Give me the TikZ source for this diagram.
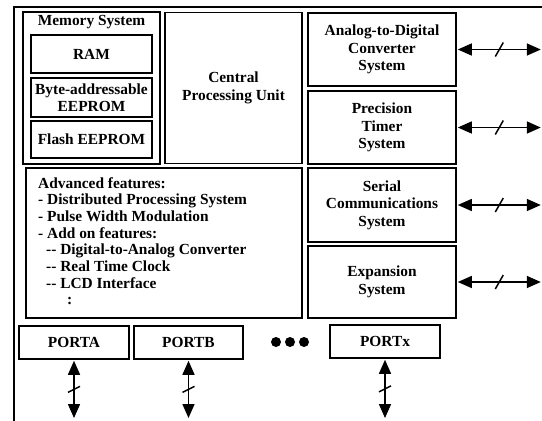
\documentclass[tikz,border=0pt]{standalone}
\usepackage{fontspec}
\setmainfont{Liberation Serif}
\usetikzlibrary{arrows.meta,calc}
\begin{document}
\begin{tikzpicture}[x=1pt,y=-1pt,
  lbl/.style={font=\fontsize{15.4}{17.5}\selectfont\bfseries},
  box/.style={draw,line width=1.6pt,inner sep=0pt,align=center,lbl},
  biarrow/.style={line width=1.5pt,{Triangle[length=14pt,width=12pt]}-{Triangle[length=14pt,width=12pt]}},
  tickmark/.style={line width=1.5pt},
  dot/.style={circle,fill,inner sep=0pt,minimum size=10pt}]
\useasboundingbox (0,0) rectangle (542,421);
% outer frame
\draw[line width=1.6pt] (542,7) -- (14,7) -- (14,421);
% memory system
\node[box,minimum width=137pt,minimum height=151.5pt] (mem) at (91.5,88) {};
\node[lbl,inner sep=0pt] (memt) at (91.5,22) {Memory System};
\node[box,minimum width=121pt,minimum height=38pt] (ram) at (91.5,54) {RAM};
\node[box,minimum width=121pt,minimum height=39pt] (byte) at (91.5,97.5) {Byte-addressable\\EEPROM};
\node[box,minimum width=121pt,minimum height=37pt] (flash) at (91.5,139.5) {Flash EEPROM};
% CPU
\node[box,minimum width=137pt,minimum height=151pt] (cpu) at (233.5,88) {Central\\Processing Unit};
% right column
\node[box,minimum width=148pt,minimum height=73pt] (adc) at (382,49.5) {Analog-to-Digital\\Converter\\System};
\node[box,minimum width=148pt,minimum height=73pt] (tim) at (382,127.5) {Precision\\Timer\\System};
\node[box,minimum width=148pt,minimum height=74pt] (ser) at (382,205) {Serial\\Communications\\System};
\node[box,minimum width=148pt,minimum height=72pt] (exp) at (382,282) {Expansion\\System};
% advanced features
\node[box,minimum width=276pt,minimum height=150pt] (adv) at (164,243) {};
\node[anchor=north west,inner sep=0pt,align=left,
  font=\fontsize{15.4}{16.7}\selectfont\bfseries] (advt) at (38,177)
  {Advanced features:\\
   - Distributed Processing System\\
   - Pulse Width Modulation\\
   - Add on features:\\
   \hspace*{8pt}-{}- Digital-to-Analog Converter\\
   \hspace*{8pt}-{}- Real Time Clock\\
   \hspace*{8pt}-{}- LCD Interface\\
   \hspace*{29pt}:};
% ports
\node[box,minimum width=110pt,minimum height=33pt] (pa) at (74,342.5) {PORTA};
\node[box,minimum width=109pt,minimum height=33pt] (pb) at (188.5,342.5) {PORTB};
\node[box,minimum width=110pt,minimum height=33pt] (px) at (385,341.5) {PORTx};
\node[dot] (d1) at (276,342) {};
\node[dot] (d2) at (290,342) {};
\node[dot] (d3) at (304,342) {};
% right arrows
\foreach \n in {adc,tim,ser,exp}{
  \coordinate (\n R) at ($(\n.east)+(84,0)$);
  \draw[biarrow] ([xshift=1pt]\n.east) -- (\n R) coordinate[pos=0.5] (\n M);
  \draw[tickmark] ($(\n M)+(-4,7)$) -- ($(\n M)+(4,-7)$);
}
% bottom arrows
\foreach \n in {pa,pb,px}{
  \coordinate (\n B) at (\n.south |- 0,418);
  \draw[biarrow] ([yshift=-1pt]\n.south) -- (\n B) coordinate[pos=0.5] (\n M);
  \draw[tickmark] ($(\n M)+(-6,3)$) -- ($(\n M)+(6,-3)$);
}
\end{tikzpicture}
\end{document}
